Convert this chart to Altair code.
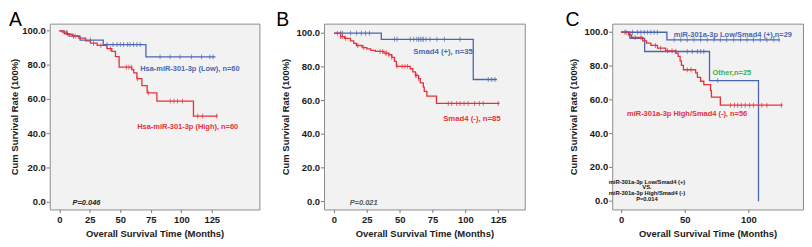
import altair as alt
import pandas as pd

# ---------------- Panel A ----------------
A_LOW_T = [0, 4, 8, 17, 36, 71, 128]
A_LOW_S = [100, 98.3, 96.9, 94.6, 92.0, 84.8, 84.8]
A_LOW_CENS = [6.5, 11.6, 25.5, 39, 44, 47.3, 50, 52.7, 56, 58, 60.8, 63.6, 66.3,
              82.6, 90.8, 99, 108.4, 116.6, 123.4, 126.1]
A_HIGH_T = [0, 2.4, 6.5, 10.6, 16, 21.5, 25.5, 31, 39, 43, 46, 49, 59.5, 61, 63.6,
            67.7, 72, 80, 110, 130]
A_HIGH_S = [100, 99.2, 98, 97, 95.7, 94.2, 92.8, 91.5, 89.6, 88, 85, 78.8, 77.4,
            75.5, 72.1, 68, 63.8, 59, 50.3, 50.3]
A_HIGH_CENS = [6, 13, 28, 34, 42, 55, 57, 59, 64, 73, 91, 94, 97, 101, 113.5, 117.5, 129]

# ---------------- Panel B ----------------
B_POS_T = [0, 36, 106, 124]
B_POS_S = [100, 96.4, 72.5, 72.5]
B_POS_CENS = [2.6, 5, 6.4, 12.6, 17.2, 20.8, 24, 27, 46, 48, 58, 60.6, 63, 64.4,
              65.6, 67, 68, 70, 73, 78.3, 84, 96, 117.4, 120, 122.5]
B_NEG_T = [0, 5, 8, 12.6, 15, 17, 21.5, 25, 28, 31.5, 38, 41.7, 44, 46, 47.5, 58,
           60, 62, 64.4, 65.7, 68, 68.7, 70.7, 78, 126]
B_NEG_S = [100, 98, 97, 95.5, 94, 92.7, 91.5, 90.7, 89.8, 89.2, 88.2, 87.2, 85.6,
           83.3, 80.3, 78.9, 77, 75, 73, 70.5, 68, 65.5, 62.6, 58.3, 58.3]
B_NEG_CENS = [5, 6.3, 8.8, 18, 22.7, 35, 37, 39, 40, 41.7, 44, 48, 51.8, 54, 56,
              62, 63, 64.4, 87, 89.6, 93.4, 96, 99, 102, 107, 110.6, 113.6, 125]

# ---------------- Panel C ----------------
C_LOW_T = [0, 36, 125]
C_LOW_S = [100, 95.5, 95.5]
C_LOW_CENS = [3.9, 9, 13, 15.6, 18.2, 20.8, 23.4, 26, 28.6, 41.7, 46.9, 52, 57.3,
              62.5, 67.7, 73, 78, 83, 88.5, 93.8, 99, 104, 109.4, 114.6, 120, 124]
C_OTH_T = [0, 7, 18.5, 69.5, 108]
C_OTH_S = [100, 96.4, 88.6, 71.4, 0]
C_OTH_CENS = [3, 43, 52, 56, 60, 62.5, 65, 76]
C_HIGH_T = [0, 5.7, 8.3, 17, 20, 23.4, 28.6, 35, 43, 44.8, 46.4, 47.4, 49, 58.6,
            60, 62.5, 65, 70.3, 71, 78, 127]
C_HIGH_S = [100, 98.4, 96.9, 94.9, 93.5, 92.2, 90.6, 89, 87.6, 85.7, 83.1, 80.4,
            77.8, 75.9, 73.3, 71, 69, 65.5, 61.6, 56.8, 56.8]
C_HIGH_CENS = [6.5, 11, 15.6, 27, 31, 36.5, 40, 52, 55, 86, 89, 91.7, 94.5, 97.6,
               101, 104, 108, 110.6, 114.6, 126]

X_TICKS = [0, 25, 50, 75, 100, 125]
Y_TICKS = [0, 20, 40, 60, 80, 100]

BLUE = "#4a66b0"
RED = "#e5313b"
GREEN = "#3bb04b"
FONT = "Liberation Sans"
AXIS_GREY = "#777777"


def step_value(ts, ss, t):
    v = ss[0]
    for ti, si in zip(ts, ss):
        if ti <= t:
            v = si
    return v


def curve_frames(curves):
    rows, cens = [], []
    for name, ts, ss, cs in curves:
        for t, s in zip(ts, ss):
            rows.append({"g": name, "t": t, "s": s})
        for c in cs:
            cens.append({"g": name, "t": c, "s": step_value(ts, ss, c)})
    return pd.DataFrame(rows), pd.DataFrame(cens)


def panel(curves, colors, notes, letter, letter_dx, xdom, ydom, w, h, title_pad):
    lines_df, cens_df = curve_frames(curves)
    names = [c[0] for c in curves]
    cscale = alt.Scale(domain=names, range=colors)
    x = alt.X("t:Q", scale=alt.Scale(domain=xdom, nice=False, zero=False),
              axis=alt.Axis(values=X_TICKS, format="d", labelOverlap=False,
                            title="Overall Survival Time (Months)"))
    y = alt.Y("s:Q", scale=alt.Scale(domain=ydom, nice=False, zero=False),
              axis=alt.Axis(labels=False, ticks=False,
                            title="Cum Survival Rate (100%)",
                            titlePadding=title_pad))
    lines = alt.Chart(lines_df).mark_line(interpolate="step-after", strokeWidth=1.3).encode(
        x=x, y=y, color=alt.Color("g:N", scale=cscale, legend=None),
        detail="g:N", order="t:Q")
    ticks = alt.Chart(cens_df).mark_tick(orient="vertical", size=5, thickness=1).encode(
        x="t:Q", y="s:Q", color=alt.Color("g:N", scale=cscale, legend=None))
    ydf = pd.DataFrame({"s": Y_TICKS})
    ytick_marks = alt.Chart(ydf).mark_rule(color=AXIS_GREY, strokeWidth=1).encode(
        y="s:Q", x=alt.value(-3), x2=alt.value(0))
    ytick_labels = alt.Chart(ydf).mark_text(
        font=FONT, fontSize=9.5, fontWeight="bold", color="#1a1a1a",
        align="right", baseline="middle").encode(
        y="s:Q", x=alt.value(-4), text=alt.Text("s:Q", format=".1f"))
    layers = [lines, ticks, ytick_marks, ytick_labels]
    for txt, tx, sy, col, size, style, align in notes:
        layers.append(
            alt.Chart(pd.DataFrame({"txt": [txt], "t": [tx], "s": [sy]})).mark_text(
                font=FONT, fontSize=size, fontWeight="bold", fontStyle=style,
                color=col, align=align, baseline="middle").encode(
                x="t:Q", y="s:Q", text="txt:N"))
    layers.append(
        alt.Chart(pd.DataFrame({"l": [letter]})).mark_text(
            font=FONT, fontSize=19.5, color="black", align="left",
            baseline="top").encode(
            text="l:N", x=alt.value(letter_dx), y=alt.value(-13)))
    return alt.layer(*layers).properties(width=w, height=h)


pA = panel(
    [("low", A_LOW_T, A_LOW_S, A_LOW_CENS), ("high", A_HIGH_T, A_HIGH_S, A_HIGH_CENS)],
    [BLUE, RED],
    [("Hsa-miR-301-3p (Low), n=60", 66.3, 77.6, BLUE, 7.5, "normal", "left"),
     ("Hsa-miR-301-3p (High), n=60", 63.8, 43.9, RED, 7.5, "normal", "left"),
     ("P=0.046", 10.8, -0.2, "#222222", 7.5, "italic", "left")],
    "A", -41, [-7.9, 164.1], [-4.2, 104.2], 211, 187, 30)

pB = panel(
    [("pos", B_POS_T, B_POS_S, B_POS_CENS), ("neg", B_NEG_T, B_NEG_S, B_NEG_CENS)],
    [BLUE, RED],
    [("Smad4 (+), n=35", 60.4, 88.6, BLUE, 7.8, "normal", "left"),
     ("Smad4 (-), n=85", 83.1, 49.0, RED, 7.8, "normal", "left"),
     ("P=0.021", 11.9, -0.6, "#555555", 7.5, "italic", "left")],
    "B", -48, [-7.6, 145.2], [-4.7, 105.7], 202, 187, 34)

pC = panel(
    [("low", C_LOW_T, C_LOW_S, C_LOW_CENS), ("oth", C_OTH_T, C_OTH_S, C_OTH_CENS),
     ("high", C_HIGH_T, C_HIGH_S, C_HIGH_CENS)],
    [BLUE, GREEN, RED],
    [("miR-301a-3p Low/Smad4 (+),n=29", 41.4, 98.6, BLUE, 7.5, "normal", "left"),
     ("Other,n=25", 71.9, 75.7, GREEN, 7.5, "normal", "left"),
     ("miR-301a-3p High/Smad4 (-), n=56", 4.7, 51.6, RED, 7.5, "normal", "left"),
     ("miR-301a-3p Low/Smad4 (+)", 20.3, 11.6, "#111111", 5.8, "normal", "center"),
     ("VS.", 20.3, 8.15, "#111111", 5.8, "normal", "center"),
     ("miR-301a-3p High/Smad4 (-)", 20.3, 4.7, "#111111", 5.8, "normal", "center"),
     ("P=0.014", 20.3, 1.25, "#111111", 5.8, "normal", "center")],
    "C", -47, [-7.0, 143.0], [-4.9, 105.1], 192, 187, 34)

chart = alt.hconcat(alt.hconcat(pA, pB, spacing=15), pC, spacing=39).properties(
    padding={"left": 0, "top": 0, "right": 0, "bottom": 0}
).configure_view(
    fill="#f2f2f2", stroke="#8c8c8c", strokeWidth=1
).configure_axis(
    domain=False, grid=False, tickColor=AXIS_GREY, tickSize=3,
    labelFont=FONT, labelFontWeight="bold", labelFontSize=9.5, labelColor="#1a1a1a",
    labelPadding=1, titleFont=FONT, titleFontWeight="bold", titleFontSize=9.5,
    titleColor="#1a1a1a"
).configure_axisX(titlePadding=5, labelPadding=2)

chart.save("out.html", embed_options={"renderer": "svg", "actions": False})
